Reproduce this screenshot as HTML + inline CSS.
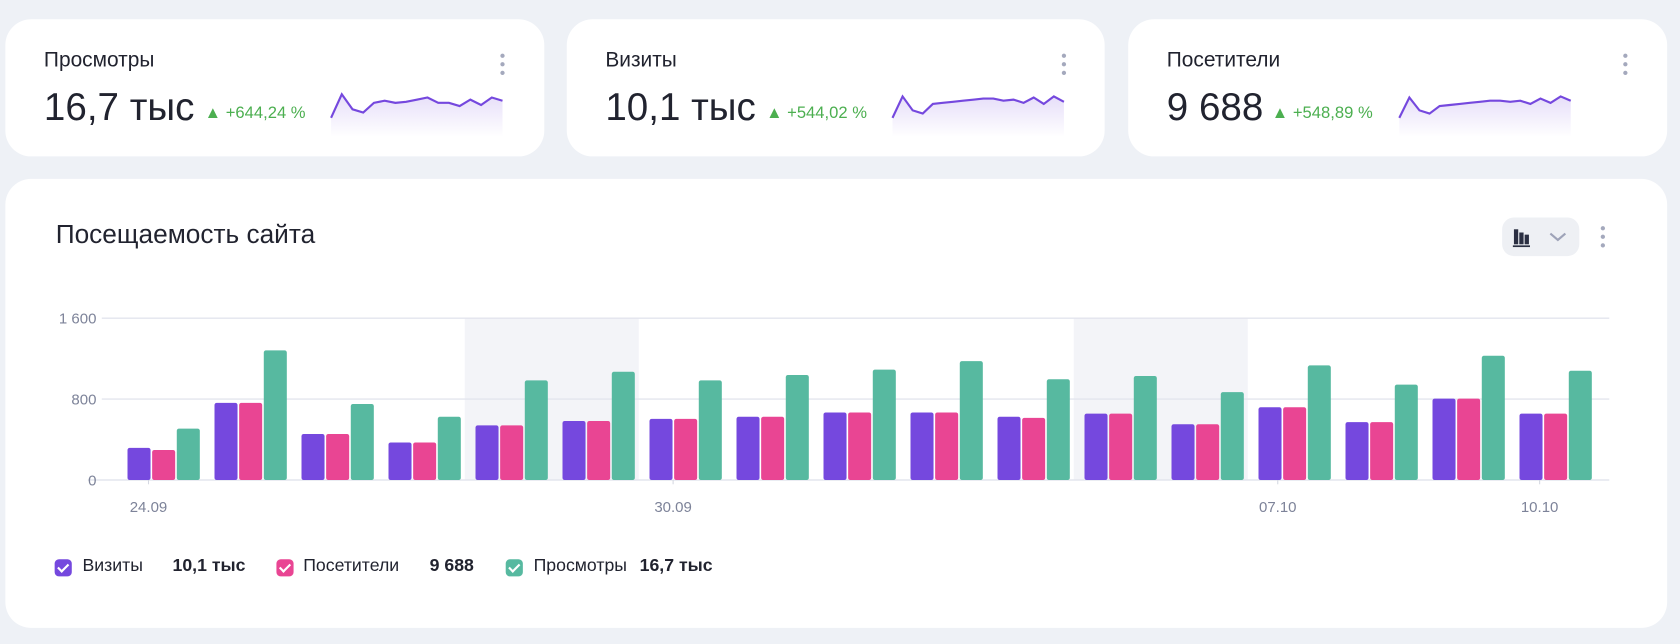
<!DOCTYPE html>
<html><head><meta charset="utf-8">
<style>
html,body{margin:0;padding:0;width:1680px;height:644px;overflow:hidden;background:#eef1f6;font-family:"Liberation Sans","Noto Sans CJK SC",sans-serif;color:#21232f}
#wrap{position:absolute;left:0;top:0;width:1568px;height:601px;transform:scale(1.07143);transform-origin:0 0}
.card{position:absolute;background:#fff;border-radius:24px}
.abs{position:absolute;white-space:nowrap}
.dots{position:absolute;width:4px}
.dots i{display:block;width:4px;height:4px;border-radius:2px;background:#a4a9bd;margin-bottom:4px}
.kt{font-size:19.5px;left:36px;top:27px}
.kv{font-size:36px;left:36px;top:61px}
.kd{font-size:15.5px;color:#4caf50;top:79px}
.leg{font-size:16.5px;top:519px}
.cb{position:absolute;width:16px;height:16px;border-radius:4px;top:522px}
.cb:after{content:"";position:absolute;left:5px;top:2px;width:4px;height:8px;border:solid #fff;border-width:0 2px 2px 0;transform:rotate(45deg)}
</style></head><body>
<div id="wrap">
 <div class="card" style="left:5px;top:18px;width:503px;height:128px">
  <div class="abs kt">Просмотры</div>
  <div class="abs kv">16,7 тыс</div>
  <div class="abs kd" style="left:186px">▲ +644,24 %</div>
  <svg class="abs" id="sp0" style="left:303px;top:68px" width="162" height="42"></svg>
  <div class="dots" style="left:462px;top:32px"><i></i><i></i><i></i></div>
 </div>
 <div class="card" style="left:529px;top:18px;width:502px;height:128px">
  <div class="abs kt">Визиты</div>
  <div class="abs kv">10,1 тыс</div>
  <div class="abs kd" style="left:186px">▲ +544,02 %</div>
  <svg class="abs" id="sp1" style="left:303px;top:68px" width="162" height="42"></svg>
  <div class="dots" style="left:462px;top:32px"><i></i><i></i><i></i></div>
 </div>
 <div class="card" style="left:1053px;top:18px;width:503px;height:128px">
  <div class="abs kt">Посетители</div>
  <div class="abs kv">9 688</div>
  <div class="abs kd" style="left:134px">▲ +548,89 %</div>
  <svg class="abs" id="sp2" style="left:252px;top:68px" width="162" height="42"></svg>
  <div class="dots" style="left:462px;top:32px"><i></i><i></i><i></i></div>
 </div>

 <div class="card" style="left:5px;top:167px;width:1551px;height:419px"></div>
 <div class="abs" style="left:52px;top:206px;font-size:24.5px">Посещаемость сайта</div>
 <div class="abs" style="left:1402px;top:203px;width:72px;height:36px;border-radius:11px;background:#eef0f4">
  <svg width="72" height="36"><rect x="11" y="11" width="4" height="14" fill="#2b2f42"/><rect x="16" y="14" width="4" height="11" fill="#2b2f42"/><rect x="21" y="16" width="4" height="9" fill="#2b2f42"/><rect x="10" y="26" width="16" height="1.6" fill="#2b2f42"/><path d="M45 15 l7 6 l7 -6" stroke="#9ea3b8" stroke-width="2" fill="none"/></svg>
 </div>
 <div class="dots" style="left:1494px;top:211px"><i></i><i></i><i></i></div>

 <svg class="abs" id="chart" style="left:0;top:270px" width="1568" height="220"></svg>

 <div class="cb" style="left:51px;background:#7548de"></div>
 <div class="abs leg" style="left:77px">Визиты</div>
 <div class="abs leg" style="left:161px;font-weight:bold">10,1 тыс</div>
 <div class="cb" style="left:258px;background:#e94593"></div>
 <div class="abs leg" style="left:283px">Посетители</div>
 <div class="abs leg" style="left:401px;font-weight:bold">9 688</div>
 <div class="cb" style="left:472px;background:#57b9a0"></div>
 <div class="abs leg" style="left:498px">Просмотры</div>
 <div class="abs leg" style="left:597px;font-weight:bold">16,7 тыс</div>
</div>
<script>
const visits=[318,763,455,371,540,583,604,625,667,667,625,657,551,720,572,805,657];
const visitors=[297,763,455,371,540,583,604,625,667,667,614,657,551,720,572,805,657];
const views=[508,1282,752,625,985,1070,985,1038,1091,1176,996,1028,869,1133,943,1229,1080];
const yTicks=[0,800,1600];
const yTickLabels=["0","800","1 600"];
const xTickLabels=["24.09","30.09","07.10","10.10"];
const xTickIdx=[0,6.03,12.98,15.99];
const weekendIdx=[4,11];
const sparkViews=[22,0,14,17,8,6,8,7,5,3,8,8,11,5,10,3,6];
const sparkVisits=[22,2,15,18,9,8,7,6,5,4,4,6,5,8,3,9,2,7];
const sparkVisitors=[22,3,15,18,11,10,9,8,7,6,6,7,6,9,4,8,2,6];

const NS="http://www.w3.org/2000/svg";
function mk(t,a,p){const e=document.createElementNS(NS,t);for(const k in a)e.setAttribute(k,a[k]);p.appendChild(e);return e;}
const svg=document.getElementById('chart');
const y0=178,yTop=27,yMax=1600;
const y=v=>y0-(v/yMax)*(y0-yTop);
const slot=81.2,x0=109;
const xs=i=>x0+i*slot;
weekendIdx.forEach((d,k)=>{const r=mk('rect',{x:xs(d),y:yTop,width:slot*2,height:y0-yTop,fill:'#f3f4f8'},svg);

});
yTicks.forEach((t,i)=>{
 const l=mk('line',{x1:i==0?82:95,x2:1502,y1:y(t),y2:y(t),stroke:'#e3e5ee','stroke-width':1.3},svg);
 
 
 const tx=mk('text',{x:90,y:y(t)+5,'text-anchor':'end','font-size':14,fill:'#7d8399'},svg);tx.textContent=yTickLabels[i];
 
 
});
const series=[[visits,'#7548de'],[visitors,'#e94593'],[views,'#57b9a0']];
const bw=21.5,gap=1.5;
for(let i=0;i<visits.length;i++){
 series.forEach((s,j)=>{
  const v=s[0][i];
  const r=mk('rect',{x:xs(i)+10+j*(bw+gap),y:y(v),width:bw,height:y0-y(v),rx:2,fill:s[1]},svg);
  
  
 });
}
xTickLabels.forEach((lb,i)=>{
 const cx=xs(xTickIdx[i])+slot/2-11;
 mk('line',{x1:cx,x2:cx,y1:y0,y2:y0+4,stroke:'#d5d8e2'},svg);
 const t=mk('text',{x:cx,y:y0+30,'text-anchor':'middle','font-size':14,fill:'#7d8399'},svg);t.textContent=lb;
 
 
});
function spark(id,data){
 const s=document.getElementById(id);
 const n=data.length,w=160;
 const px=i=>1+i*w/(n-1),py=v=>2+v;
 let pts=data.map((v,i)=>px(i)+','+py(v)).join(' ');
 const g=mk('linearGradient',{id:id+'g',x1:0,y1:0,x2:0,y2:1},mk('defs',{},s));
 mk('stop',{offset:0,'stop-color':'#7548de','stop-opacity':0.18},g);mk('stop',{offset:1,'stop-color':'#7548de','stop-opacity':0},g);
 mk('polygon',{points:pts+' '+px(n-1)+',42 '+px(0)+',42',fill:'url(#'+id+'g)'},s);
 const l=mk('polyline',{points:pts,fill:'none',stroke:'#7548de','stroke-width':2},s);
 
 
}
spark('sp0',sparkViews);spark('sp1',sparkVisits);spark('sp2',sparkVisitors);
</script>
</body></html>
